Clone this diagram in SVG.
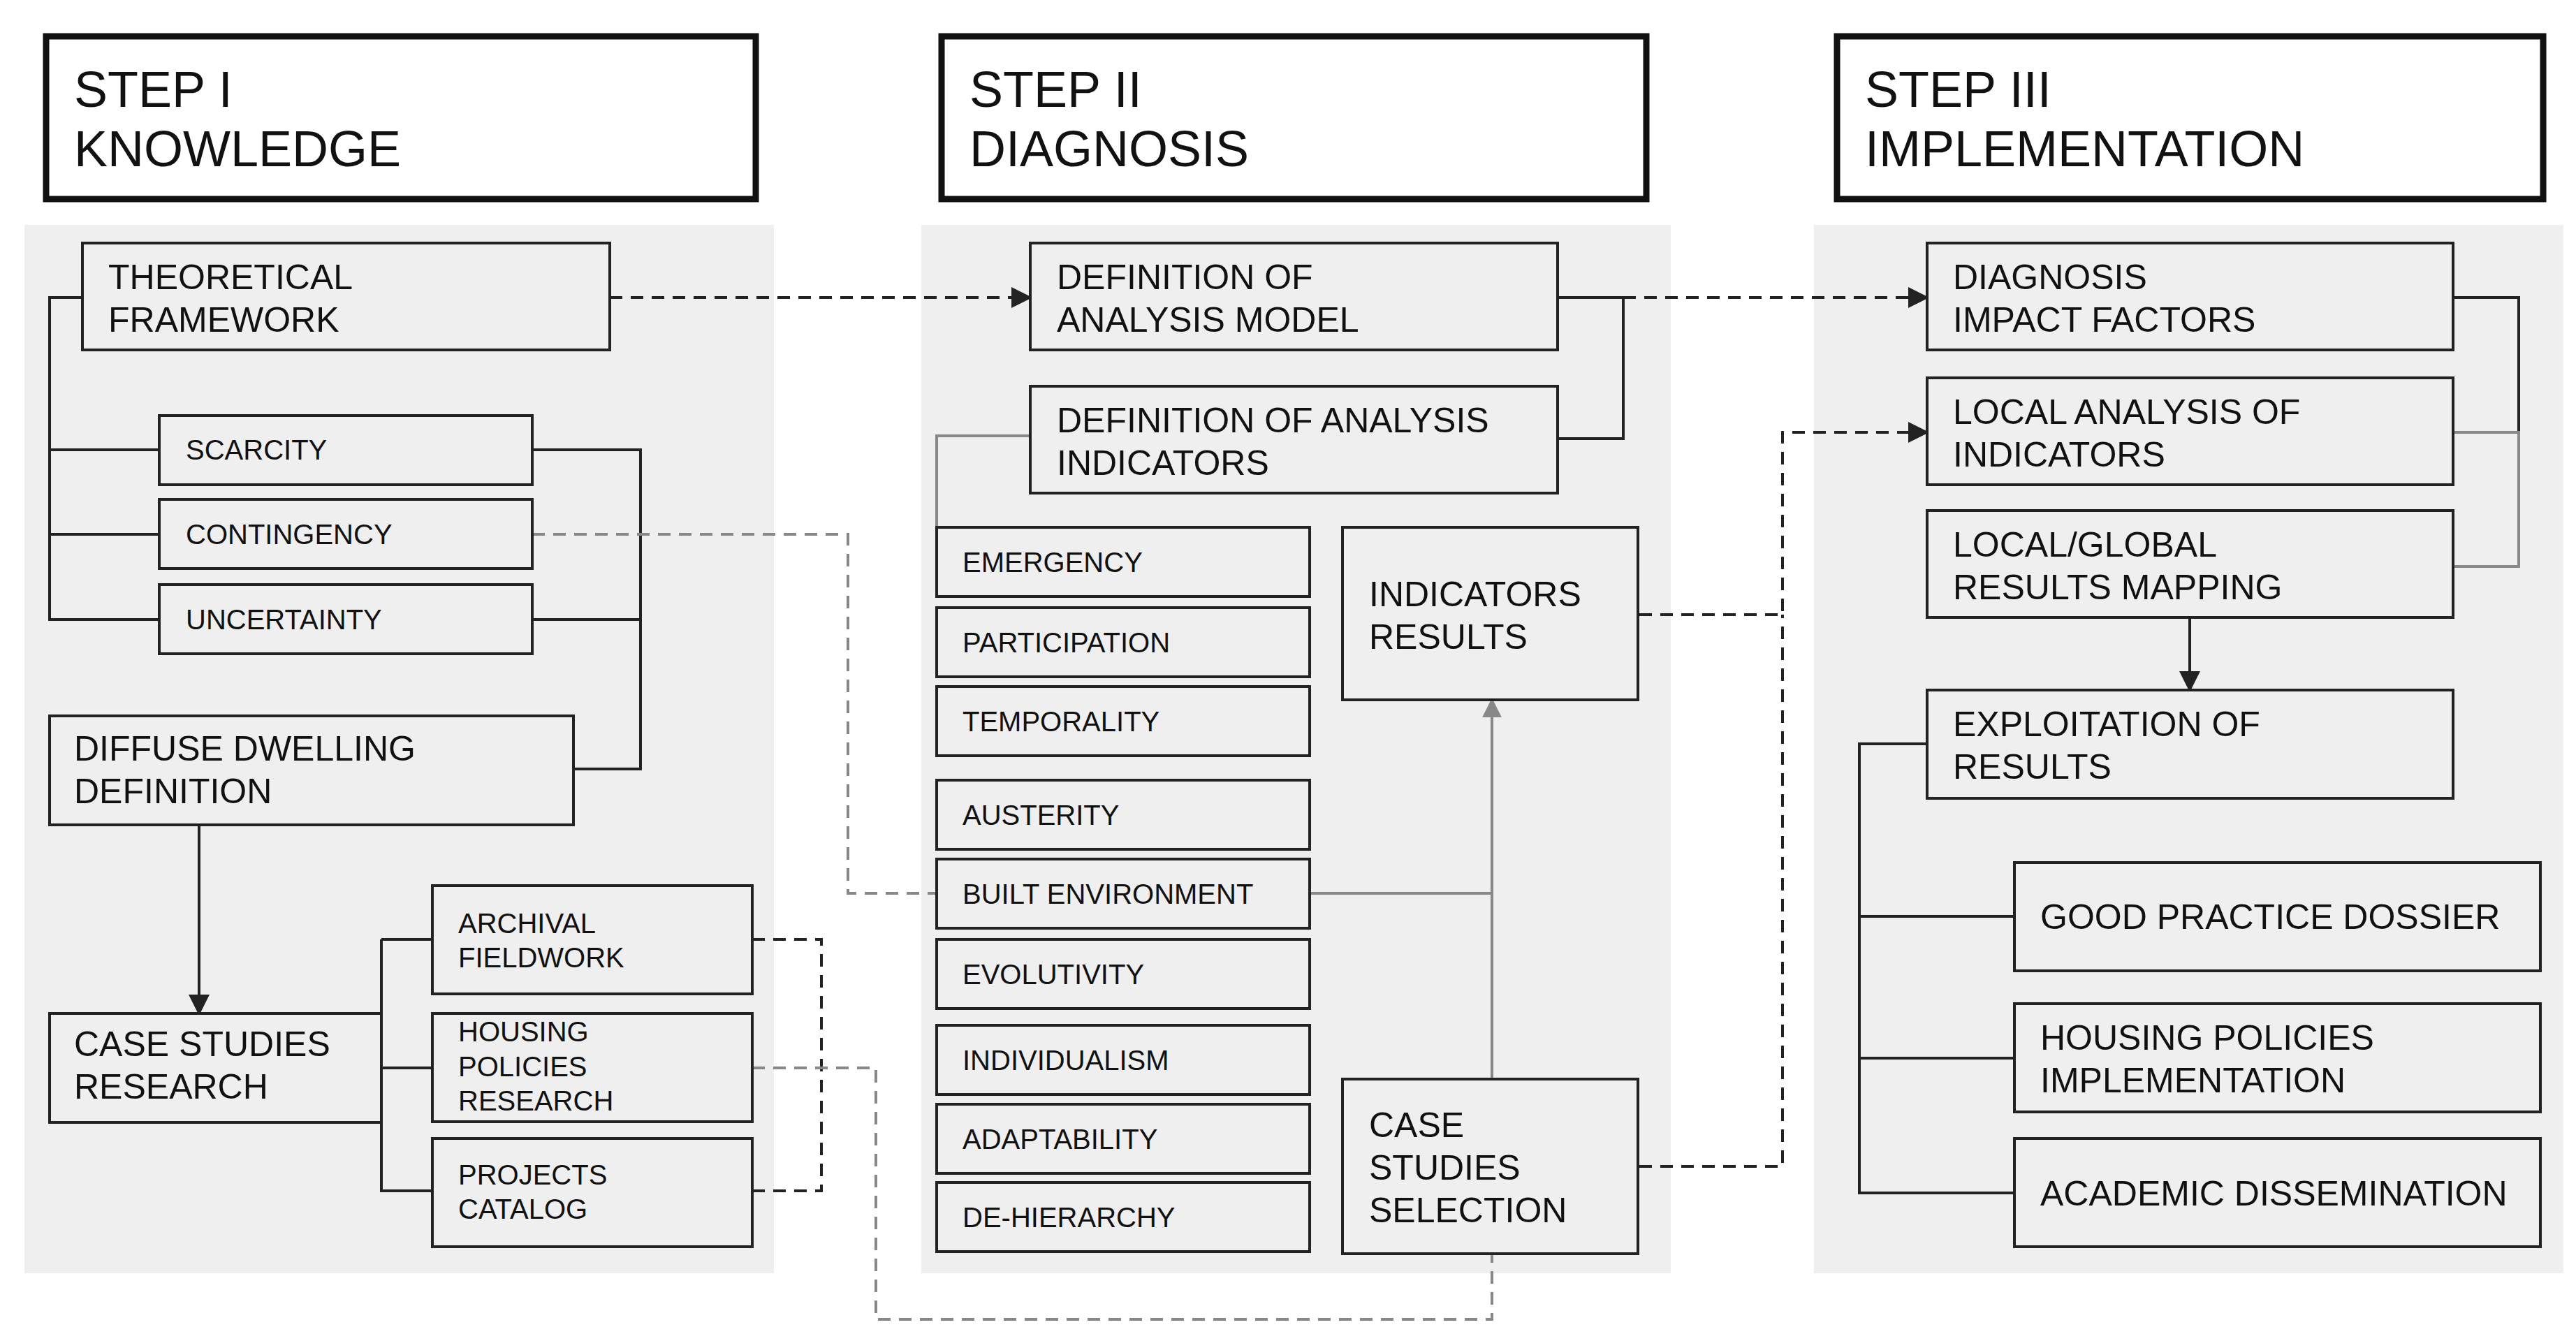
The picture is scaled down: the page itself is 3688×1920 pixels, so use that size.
<svg xmlns="http://www.w3.org/2000/svg" width="3688" height="1920" viewBox="0 0 3688 1920">
<style>
text{font-family:"Liberation Sans",Arial,sans-serif;fill:#111}
.hd{fill:#fff;stroke:#111;stroke-width:9}
.ht{font-size:72px}
.pn{fill:#efefef}
.b{fill:#efefef;stroke:#222;stroke-width:4}
.L{font-size:50px}
.S{font-size:40px}
.c{fill:none;stroke:#222;stroke-width:4}
.g{fill:none;stroke:#888;stroke-width:4}
.dd{fill:none;stroke:#222;stroke-width:4;stroke-dasharray:18 12}
.dg{fill:none;stroke:#888;stroke-width:4;stroke-dasharray:18 12}
</style>
<defs>
<marker id="a" markerWidth="10" markerHeight="10" refX="9" refY="5" orient="auto" markerUnits="userSpaceOnUse" viewBox="0 0 10 10"><path d="M0,0L10,5L0,10z" fill="#222"/></marker>
<marker id="ag" viewBox="0 0 10 10" markerWidth="28" markerHeight="28" refX="9" refY="5" orient="auto" markerUnits="userSpaceOnUse"><path d="M0,0L10,5L0,10z" fill="#888"/></marker>
<marker id="ab" viewBox="0 0 10 10" markerWidth="30" markerHeight="30" refX="9" refY="5" orient="auto" markerUnits="userSpaceOnUse"><path d="M0,0L10,5L0,10z" fill="#222"/></marker>
</defs>
<rect width="3688" height="1920" fill="#fff"/>
<g id="panels">
<rect class="pn" x="35" y="322" width="1073" height="1501"/>
<rect class="pn" x="1319" y="322" width="1073" height="1501"/>
<rect class="pn" x="2597" y="322" width="1073" height="1501"/>
</g>
<g id="step1"><rect class="hd" x="66" y="52" width="1016" height="233"/><text class="ht" x="106" y="153">STEP I</text><text class="ht" x="106" y="238">KNOWLEDGE</text></g>
<g id="step2"><rect class="hd" x="1348" y="52" width="1009" height="233"/><text class="ht" x="1388" y="153">STEP II</text><text class="ht" x="1388" y="238">DIAGNOSIS</text></g>
<g id="step3"><rect class="hd" x="2630" y="52" width="1011" height="233"/><text class="ht" x="2670" y="153">STEP III</text><text class="ht" x="2670" y="238">IMPLEMENTATION</text></g>
<g id="connectors">
<path class="c" d="M118,426H71V887H228M71,644H228M71,765H228"/>
<path class="c" d="M762,644H917V1101H821M762,887H917"/>
<path class="c" d="M285,1181V1451" marker-end="url(#ab)"/>
<path class="c" d="M546,1345V1705H619M546,1345H619M546,1529H619"/>
<path class="dd" d="M1077,1345H1176V1705H1077"/>
<path class="dg" d="M1077,1529H1254V1889H2136V1795"/>
<path class="dg" d="M762,765H1214V1279H1341"/>
<path class="dd" d="M873,426H1475" marker-end="url(#ab)"/>
<path class="c" d="M2230,426H2324V628H2230"/>
<path class="dd" d="M2324,426H2759" marker-end="url(#ab)"/>
<path class="g" d="M1475,624H1341V755"/>
<path class="g" d="M1875,1279H2136"/>
<path class="g" d="M2136,1545V1002" marker-end="url(#ag)"/>
<path class="dd" d="M2347,880H2552V619H2759" marker-end="url(#ab)"/>
<path class="dd" d="M2347,1670H2552V880"/>
<path class="c" d="M3511,426H3606V619"/>
<path class="g" d="M3511,619H3606V811H3511"/>
<path class="c" d="M3135,884V988" marker-end="url(#ab)"/>
<path class="c" d="M2759,1065H2662V1708H2884M2662,1312H2884M2662,1515H2884"/>
</g>
<g id="theoretical"><rect class="b" x="118" y="348" width="755" height="153"/><text class="L" x="155" y="414">THEORETICAL</text><text class="L" x="155" y="475">FRAMEWORK</text></g>
<g id="scarcity"><rect class="b" x="228" y="595" width="534" height="99"/><text class="S" x="266" y="658">SCARCITY</text></g>
<g id="contingency"><rect class="b" x="228" y="715" width="534" height="99"/><text class="S" x="266" y="779">CONTINGENCY</text></g>
<g id="uncertainty"><rect class="b" x="228" y="837" width="534" height="99"/><text class="S" x="266" y="901">UNCERTAINTY</text></g>
<g id="diffuse"><rect class="b" x="71" y="1025" width="750" height="156"/><text class="L" x="106" y="1089">DIFFUSE DWELLING</text><text class="L" x="106" y="1150">DEFINITION</text></g>
<g id="casestudies"><rect class="b" x="71" y="1451" width="475" height="156"/><text class="L" x="106" y="1512">CASE STUDIES</text><text class="L" x="106" y="1573">RESEARCH</text></g>
<g id="archival"><rect class="b" x="619" y="1268" width="458" height="155"/><text class="S" x="656" y="1336">ARCHIVAL</text><text class="S" x="656" y="1385">FIELDWORK</text></g>
<g id="housing"><rect class="b" x="619" y="1451" width="458" height="155"/><text class="S" x="656" y="1491">HOUSING</text><text class="S" x="656" y="1541">POLICIES</text><text class="S" x="656" y="1590">RESEARCH</text></g>
<g id="projects"><rect class="b" x="619" y="1630" width="458" height="155"/><text class="S" x="656" y="1696">PROJECTS</text><text class="S" x="656" y="1745">CATALOG</text></g>
<g id="model"><rect class="b" x="1475" y="348" width="755" height="153"/><text class="L" x="1513" y="414">DEFINITION OF</text><text class="L" x="1513" y="475">ANALYSIS MODEL</text></g>
<g id="indicdef"><rect class="b" x="1475" y="553" width="755" height="153"/><text class="L" x="1513" y="619">DEFINITION OF ANALYSIS</text><text class="L" x="1513" y="680">INDICATORS</text></g>
<g id="emergency"><rect class="b" x="1341" y="755" width="534" height="99"/><text class="S" x="1378" y="819">EMERGENCY</text></g>
<g id="participation"><rect class="b" x="1341" y="870" width="534" height="99"/><text class="S" x="1378" y="934">PARTICIPATION</text></g>
<g id="temporality"><rect class="b" x="1341" y="983" width="534" height="99"/><text class="S" x="1378" y="1047">TEMPORALITY</text></g>
<g id="austerity"><rect class="b" x="1341" y="1117" width="534" height="99"/><text class="S" x="1378" y="1181">AUSTERITY</text></g>
<g id="builtenv"><rect class="b" x="1341" y="1230" width="534" height="99"/><text class="S" x="1378" y="1294">BUILT ENVIRONMENT</text></g>
<g id="evolutivity"><rect class="b" x="1341" y="1345" width="534" height="99"/><text class="S" x="1378" y="1409">EVOLUTIVITY</text></g>
<g id="individualism"><rect class="b" x="1341" y="1468" width="534" height="99"/><text class="S" x="1378" y="1532">INDIVIDUALISM</text></g>
<g id="adaptability"><rect class="b" x="1341" y="1581" width="534" height="99"/><text class="S" x="1378" y="1645">ADAPTABILITY</text></g>
<g id="dehierarchy"><rect class="b" x="1341" y="1693" width="534" height="99"/><text class="S" x="1378" y="1757">DE-HIERARCHY</text></g>
<g id="indresults"><rect class="b" x="1922" y="755" width="423" height="247"/><text class="L" x="1960" y="868">INDICATORS</text><text class="L" x="1960" y="929">RESULTS</text></g>
<g id="caseselection"><rect class="b" x="1922" y="1545" width="423" height="250"/><text class="L" x="1960" y="1628">CASE</text><text class="L" x="1960" y="1689">STUDIES</text><text class="L" x="1960" y="1750">SELECTION</text></g>
<g id="impact"><rect class="b" x="2759" y="348" width="753" height="153"/><text class="L" x="2796" y="414">DIAGNOSIS</text><text class="L" x="2796" y="475">IMPACT FACTORS</text></g>
<g id="localanalysis"><rect class="b" x="2759" y="541" width="753" height="153"/><text class="L" x="2796" y="607">LOCAL ANALYSIS OF</text><text class="L" x="2796" y="668">INDICATORS</text></g>
<g id="mapping"><rect class="b" x="2759" y="731" width="753" height="153"/><text class="L" x="2796" y="797">LOCAL/GLOBAL</text><text class="L" x="2796" y="858">RESULTS MAPPING</text></g>
<g id="exploitation"><rect class="b" x="2759" y="988" width="753" height="155"/><text class="L" x="2796" y="1054">EXPLOITATION  OF</text><text class="L" x="2796" y="1115">RESULTS</text></g>
<g id="goodpractice"><rect class="b" x="2884" y="1235" width="753" height="155"/><text class="L" x="2921" y="1330">GOOD PRACTICE DOSSIER</text></g>
<g id="housingimpl"><rect class="b" x="2884" y="1437" width="753" height="155"/><text class="L" x="2921" y="1503">HOUSING POLICIES</text><text class="L" x="2921" y="1564">IMPLEMENTATION</text></g>
<g id="academic"><rect class="b" x="2884" y="1630" width="753" height="155"/><text class="L" x="2921" y="1726">ACADEMIC DISSEMINATION</text></g>
</svg>
